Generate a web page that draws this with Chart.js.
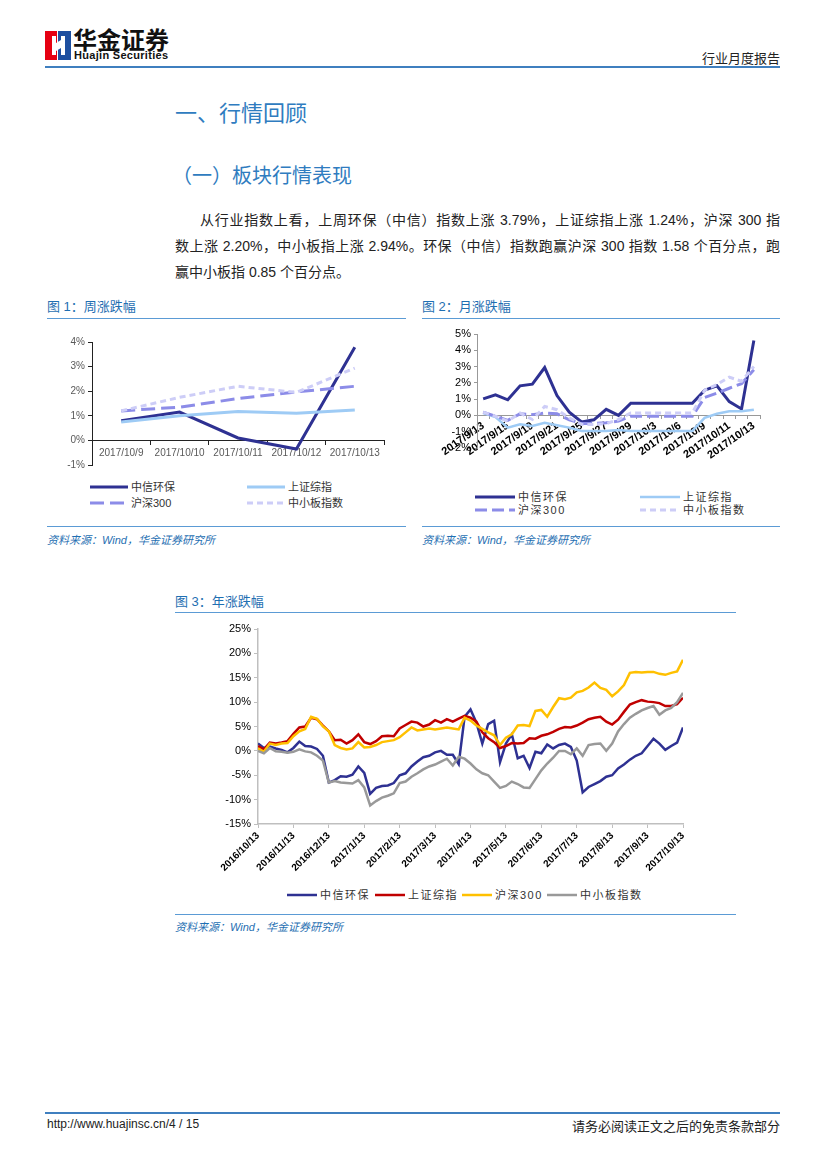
<!DOCTYPE html>
<html lang="zh-CN">
<head>
<meta charset="utf-8">
<title>行业月度报告</title>
<script src="https://cdn.jsdelivr.net/npm/chart.js@4.4.1/dist/chart.umd.min.js"></script>
<style>
  body { margin: 0; width: 827px; height: 1169px; position: relative; background: #fff; overflow: hidden;
         font-family: "Liberation Sans", "Noto Sans CJK SC", sans-serif; color: #222; }
  .abs { position: absolute; white-space: nowrap; }
  .rule { position: absolute; height: 0; border-top: 1px solid #5b9bd5; }
  .figtitle { position: absolute; font-size: 13px; color: #1f6fb2; line-height: 16px; }
  .source { position: absolute; font-size: 11px; color: #1f6fb2; font-style: italic; line-height: 14px; }
  .para { position: absolute; font-size: 14px; line-height: 20px; color: #222; text-align: justify; text-align-last: justify; }
  .leg { position: absolute; font-size: 11px; line-height: 14px; color: #333; display: flex; align-items: center; white-space: nowrap; }
  .leg svg { margin-right: 3px; }
  .wide { letter-spacing: 1.5px; }
  canvas { position: absolute; }
</style>
</head>
<body>

<!-- header -->
<svg class="abs" style="left:45px;top:31px" width="26" height="29">
  <rect x="0" y="0" width="12" height="29" fill="#e60012"/>
  <rect x="13" y="0" width="13" height="29" fill="#1d4fa0"/>
  <polygon points="7,5 11,5 11,12 16,9 16,5 20,5 20,24 16,24 16,17 11,20 11,24 7,24" fill="#fff"/>
</svg>
<div class="abs" style="left:73px;top:27px;font-size:24px;line-height:24px;font-weight:bold;color:#111;font-family:'Noto Sans CJK SC'">华金证券</div>
<div class="abs" style="left:74px;top:50px;font-size:11px;line-height:10px;font-weight:bold;color:#111;letter-spacing:0.3px">Huajin Securities</div>
<div class="abs" style="right:47px;top:48px;font-size:13px;color:#222;font-family:'Noto Sans CJK SC'">行业月度报告</div>
<div class="abs" style="left:45px;top:66px;width:735px;height:2px;background:#3f7fbf"></div>

<!-- headings -->
<div class="abs" style="left:175px;top:95px;font-size:22px;color:#2f7cc0;font-family:'Noto Sans CJK SC'">一、行情回顾</div>
<div class="abs" style="left:172px;top:160px;font-size:20px;color:#2f7cc0;font-family:'Noto Sans CJK SC'">（一）板块行情表现</div>

<div class="para" style="left:200px;top:210px;width:580px">从行业指数上看，上周环保（中信）指数上涨 3.79%，上证综指上涨 1.24%，沪深 300 指</div>
<div class="para" style="left:175px;top:236px;width:605px">数上涨 2.20%，中小板指上涨 2.94%。环保（中信）指数跑赢沪深 300 指数 1.58 个百分点，跑</div>
<div class="para" style="left:175px;top:262px;text-align-last:left">赢中小板指 0.85 个百分点。</div>

<!-- figure 1 -->
<div class="figtitle" style="left:47px;top:299px">图 1：周涨跌幅</div>
<div class="rule" style="left:47px;top:318px;width:359px"></div>
<canvas id="weekChart" width="360" height="145" style="left:47px;top:330px"></canvas>
<div id="weekLegend"></div>
<div class="rule" style="left:47px;top:526px;width:359px"></div>
<div class="source" style="left:47px;top:533px">资料来源：Wind，华金证券研究所</div>

<!-- figure 2 -->
<div class="figtitle" style="left:422px;top:299px">图 2：月涨跌幅</div>
<div class="rule" style="left:422px;top:318px;width:358px"></div>
<canvas id="monthChart" width="360" height="160" style="left:422px;top:320px"></canvas>
<div id="monthLegend"></div>
<div class="rule" style="left:422px;top:526px;width:358px"></div>
<div class="source" style="left:422px;top:533px">资料来源：Wind，华金证券研究所</div>

<!-- figure 3 -->
<div class="figtitle" style="left:175px;top:594px">图 3：年涨跌幅</div>
<div class="rule" style="left:175px;top:612px;width:561px"></div>
<canvas id="yearChart" width="560" height="262" style="left:175px;top:615px"></canvas>
<div id="yearLegend"></div>
<div class="rule" style="left:175px;top:914px;width:561px"></div>
<div class="source" style="left:175px;top:920px">资料来源：Wind，华金证券研究所</div>

<!-- footer -->
<div class="abs" style="left:45px;top:1112px;width:735px;height:2px;background:#3f7fbf"></div>
<div class="abs" style="left:47px;top:1117px;font-size:12px;color:#222">http://www.huajinsc.cn/4 / 15</div>
<div class="abs" style="right:47px;top:1116px;font-size:13px;color:#222;font-family:'Noto Sans CJK SC'">请务必阅读正文之后的免责条款部分</div>

<script>
// ---- data: 周涨跌幅 (%) ----
const weekDays = ["2017/10/9", "2017/10/10", "2017/10/11", "2017/10/12", "2017/10/13"];
const weekZxhb = [0.8, 1.15, 0.1, -0.35, 3.79];
const weekSzzz = [0.75, 1.0, 1.17, 1.1, 1.24];
const weekHs300 = [1.2, 1.35, 1.7, 1.97, 2.2];
const weekZxb = [1.2, 1.75, 2.2, 1.95, 2.94];

// ---- data: 月涨跌幅 (%) ----
const monthDays = ["2017/9/13", "2017/9/14", "2017/9/15", "2017/9/18", "2017/9/19", "2017/9/20",
  "2017/9/21", "2017/9/22", "2017/9/25", "2017/9/26", "2017/9/27", "2017/9/28", "2017/9/29",
  "2017/9/30", "2017/10/3", "2017/10/4", "2017/10/6", "2017/10/8", "2017/10/9", "2017/10/10",
  "2017/10/11", "2017/10/12", "2017/10/13"];
const monthZxhb = [1.02, 1.27, 0.96, 1.82, 1.92, 2.94, 1.22, 0.2, -0.4, -0.27, 0.37, 0.0, 0.75,
  0.75, 0.75, 0.75, 0.75, 0.75, 1.55, 1.82, 0.85, 0.4, 4.6];
const monthSzzz = [0.15, -0.1, -0.75, -0.55, -0.65, -0.45, -0.6, -0.75, -0.95, -0.95, -0.95, -0.9,
  -0.95, -0.95, -0.95, -0.95, -0.95, -0.95, -0.15, 0.1, 0.25, 0.25, 0.35];
const monthHs300 = [0.2, -0.05, -0.3, 0.1, 0.05, 0.15, 0.1, -0.27, -0.5, -0.5, -0.45, -0.35, -0.05,
  -0.05, -0.05, -0.05, -0.05, -0.05, 1.1, 1.37, 1.67, 1.95, 2.8];
const monthZxb = [0.2, -0.05, -0.35, 0.15, -0.25, 0.55, 0.35, -0.15, -0.55, -0.55, -0.5, -0.25, 0.15,
  0.15, 0.15, 0.15, 0.15, 0.15, 1.55, 1.9, 2.35, 2.1, 3.0];

// ---- data: 年涨跌幅 (%), 6 readings per month ----
const yearMonths = ["2016/10/13", "2016/11/13", "2016/12/13", "2017/1/13", "2017/2/13", "2017/3/13",
  "2017/4/13", "2017/5/13", "2017/6/13", "2017/7/13", "2017/8/13", "2017/9/13", "2017/10/13"];
const READS_PER_MONTH = 6;
const yearZxhb = [1.5, 0.6, 0.9, 0.5, 0.2, -0.3, 0.6, 1.9, 1.0, 0.9, 0.4, -1.0,
  -6.5, -6.0, -5.2, -5.3, -4.9, -3.2, -4.5, -8.8, -7.6, -7.2, -7.1, -6.6,
  -5.0, -4.6, -3.2, -2.2, -1.3, -1.0, -0.3, 0.0, -0.8, -0.8, -2.7, 7.0,
  8.5, 5.8, 1.5, 5.5, 6.2, -2.3, 1.5, 3.4, -1.5, -1.0, -3.5, -0.2,
  -0.5, 1.3, 0.5, 1.2, 1.5, 0.8, -2.0, -8.5, -7.4, -6.8, -6.2, -5.3,
  -5.0, -3.6, -2.8, -1.8, -1.0, -0.5, 1.0, 2.5, 1.5, 0.2, 1.0, 1.7, 4.8];
const yearSzzz = [1.0, 0.3, 1.7, 1.5, 1.7, 2.0, 3.5, 4.8, 5.0, 6.8, 6.5, 5.2,
  4.0, 2.2, 2.3, 1.5, 2.2, 3.4, 1.8, 1.4, 2.0, 3.0, 3.1, 3.0,
  4.6, 5.3, 6.0, 5.8, 5.0, 5.4, 6.3, 5.8, 6.5, 6.0, 6.6, 7.2,
  6.8, 6.0, 3.8, 2.6, 1.8, 0.6, 1.0, 1.6, 1.5, 1.6, 2.6, 2.5,
  3.1, 3.4, 3.9, 4.5, 4.9, 4.8, 5.2, 5.8, 6.5, 6.8, 7.0, 6.0,
  5.4, 6.4, 8.0, 9.5, 10.0, 10.4, 10.1, 10.0, 9.8, 9.2, 9.2, 9.6, 10.9];
const yearHs300 = [0.5, -0.2, 1.5, 1.2, 1.5, 1.6, 3.0, 4.0, 4.5, 7.0, 6.6, 5.0,
  4.0, 1.2, 0.6, 0.3, 0.5, 1.8, 0.7, 0.8, 1.2, 1.8, 2.0, 2.2,
  2.8, 3.8, 4.8, 4.2, 4.4, 4.6, 4.4, 4.6, 4.8, 4.6, 4.4, 6.8,
  6.2, 5.2, 4.5, 3.8, 3.2, 1.2, 2.7, 3.4, 5.2, 5.3, 5.1, 8.2,
  8.4, 7.0, 9.0, 10.8, 10.6, 10.9, 12.0, 12.3, 13.0, 14.0, 12.9, 12.5,
  11.2, 12.2, 13.5, 16.0, 16.2, 16.1, 16.2, 16.2, 15.8, 15.6, 16.0, 16.3, 18.7];
const yearZxb = [0.0, -0.5, 0.6, -0.1, -0.2, -0.4, -0.2, 0.3, -0.1, -0.3, -1.0, -2.0,
  -6.5, -6.2, -6.5, -6.6, -6.7, -6.0, -7.5, -11.2, -10.3, -9.6, -9.2, -8.7,
  -6.6, -6.3, -5.3, -4.6, -3.8, -3.2, -2.8, -2.2, -1.6, -3.0, -1.2, -1.6,
  -2.6, -3.8, -4.6, -5.0, -6.3, -7.6, -7.2, -6.3, -6.8, -7.5, -7.6, -5.8,
  -4.0, -2.6, -1.4, 0.0, 0.0, -0.7, 0.5, -1.0, 1.2, 1.4, 1.5, 0.0,
  1.5, 4.0, 5.5, 6.8, 7.6, 8.3, 8.8, 9.2, 7.4, 8.3, 8.8, 10.0, 11.9];

const NAMES = ["中信环保", "上证综指", "沪深300", "中小板指数"];

function lineSet(label, data, color, width, dash, order) {
      return {
            label: label,
            data: data,
            borderColor: color,
            backgroundColor: color,
            borderWidth: width,
            borderDash: dash,
            pointRadius: 0,
            tension: 0,
            fill: false,
            order: order,
      };
}

function makeLegend(id, items, cls) {
      const box = document.getElementById(id);
      items.forEach((it) => {
            const div = document.createElement("div");
            div.className = "leg";
            div.style.left = it.left + "px";
            div.style.top = it.top + "px";
            const w = it.len;
            div.innerHTML =
                  `<svg width="${w}" height="6"><line x1="0" y1="3" x2="${w}" y2="3" stroke="${it.color}" stroke-width="${it.width}" stroke-dasharray="${it.dash.join(",") || "none"}"/></svg><span class="${cls || ""}">${it.label}</span>`;
            box.appendChild(div);
      });
}

const pct = (v) => v + "%";

// ---- 图1 周涨跌幅 ----
const weekStyles = [
      { color: "#2e3192", width: 3, dash: [] },
      { color: "#9ecbf5", width: 3, dash: [] },
      { color: "#8c8ce8", width: 3, dash: [14, 6] },
      { color: "#cdcdf7", width: 3, dash: [6, 4] },
];
const weekSeries = [weekZxhb, weekSzzz, weekHs300, weekZxb];

new Chart(document.getElementById("weekChart"), {
      type: "line",
      data: {
            labels: weekDays,
            datasets: weekSeries.map((d, i) =>
                  lineSet(NAMES[i], d, weekStyles[i].color, weekStyles[i].width, weekStyles[i].dash, 3 - i)),
      },
      options: {
            responsive: false,
            animation: false,
            layout: { padding: { top: 12, right: 23, bottom: 10, left: 0 } },
            plugins: { legend: { display: false }, tooltip: { enabled: false } },
            scales: {
                  x: {
                        position: { y: 0 },
                        offset: true,
                        grid: { drawOnChartArea: false, offset: true, tickLength: 4, color: "#222" },
                        border: { color: "#222", width: 1 },
                        ticks: { color: "#595959", font: { size: 10 }, maxRotation: 0, padding: 3 },
                  },
                  y: {
                        min: -1,
                        max: 4,
                        grid: { drawOnChartArea: false, tickLength: 4, color: "#222" },
                        border: { color: "#222", width: 1 },
                        ticks: { stepSize: 1, callback: pct, color: "#595959", font: { size: 10 } },
                        afterFit: (s) => { s.width = 45; },
                  },
            },
      },
});

makeLegend("weekLegend", [
      { label: NAMES[0], left: 90, top: 480, len: 38, ...weekStyles[0] },
      { label: NAMES[1], left: 247, top: 480, len: 38, ...weekStyles[1] },
      { label: NAMES[2], left: 90, top: 496, len: 38, ...weekStyles[2] },
      { label: NAMES[3], left: 247, top: 496, len: 38, ...weekStyles[3] },
]);

// ---- 图2 月涨跌幅 ----
const monthStyles = [
      { color: "#2e3192", width: 3, dash: [] },
      { color: "#9ecbf5", width: 2.5, dash: [] },
      { color: "#8c8ce8", width: 3, dash: [12, 5] },
      { color: "#cdcdf7", width: 3, dash: [6, 4] },
];
const monthSeries = [monthZxhb, monthSzzz, monthHs300, monthZxb];

new Chart(document.getElementById("monthChart"), {
      type: "line",
      data: {
            labels: monthDays,
            datasets: monthSeries.map((d, i) =>
                  lineSet(NAMES[i], d, monthStyles[i].color, monthStyles[i].width, monthStyles[i].dash, 3 - i)),
      },
      options: {
            responsive: false,
            animation: false,
            layout: { padding: { top: 14, right: 22, bottom: 32, left: 0 } },
            plugins: { legend: { display: false }, tooltip: { enabled: false } },
            scales: {
                  x: {
                        position: { y: 0 },
                        offset: true,
                        grid: { drawOnChartArea: false, offset: true, tickLength: 3, color: "#999" },
                        border: { color: "#999", width: 1 },
                        ticks: {
                              autoSkip: false,
                              maxRotation: 35,
                              minRotation: 35,
                              color: "#000",
                              font: { size: 11, weight: "bold" },
                              padding: 1,
                              callback: function (v, i) { return i % 2 === 0 ? this.getLabelForValue(v) : ""; },
                        },
                  },
                  y: {
                        min: -2,
                        max: 5,
                        grid: { drawOnChartArea: false, tickLength: 3, color: "#999" },
                        border: { color: "#999", width: 1 },
                        ticks: { stepSize: 1, callback: pct, color: "#000", font: { size: 11 } },
                        afterFit: (s) => { s.width = 55; },
                  },
            },
      },
});

makeLegend("monthLegend", [
      { label: NAMES[0], left: 475, top: 490, len: 40, ...monthStyles[0] },
      { label: NAMES[1], left: 640, top: 490, len: 40, ...monthStyles[1] },
      { label: NAMES[2], left: 475, top: 503, len: 40, ...monthStyles[2] },
      { label: NAMES[3], left: 640, top: 503, len: 40, ...monthStyles[3] },
], "wide");

// ---- 图3 年涨跌幅 ----
const yearColors = ["#2e3192", "#c00000", "#ffc000", "#999999"];
const yearSeries = [yearZxhb, yearSzzz, yearHs300, yearZxb];

new Chart(document.getElementById("yearChart"), {
      type: "line",
      data: {
            datasets: yearSeries.map((d, i) =>
                  lineSet(NAMES[i], d.map((v, k) => ({ x: k / READS_PER_MONTH, y: v })), yearColors[i], 2.5, [], 3 - i)),
      },
      options: {
            responsive: false,
            animation: false,
            layout: { padding: { top: 14, right: 52, bottom: 2, left: 0 } },
            plugins: { legend: { display: false }, tooltip: { enabled: false } },
            scales: {
                  x: {
                        type: "linear",
                        min: 0,
                        max: yearMonths.length - 1,
                        grid: { drawOnChartArea: false, tickLength: 4, color: "#bfbfbf" },
                        border: { color: "#bfbfbf", width: 1.5 },
                        ticks: {
                              stepSize: 1,
                              autoSkip: false,
                              maxRotation: 45,
                              minRotation: 45,
                              color: "#000",
                              font: { size: 10, weight: "bold" },
                              padding: 2,
                              callback: (v) => yearMonths[v],
                        },
                        afterFit: (s) => { s.height = 51; },
                  },
                  y: {
                        min: -15,
                        max: 25,
                        grid: { drawOnChartArea: false, tickLength: 4, color: "#bfbfbf" },
                        border: { color: "#bfbfbf", width: 1.5 },
                        ticks: { stepSize: 5, callback: pct, color: "#000", font: { size: 11 } },
                        afterFit: (s) => { s.width = 83; },
                  },
            },
      },
});

makeLegend("yearLegend", [
      { label: NAMES[0], left: 287, top: 888, len: 30, color: yearColors[0], width: 2.5, dash: [] },
      { label: NAMES[1], left: 375, top: 888, len: 30, color: yearColors[1], width: 2.5, dash: [] },
      { label: NAMES[2], left: 462, top: 888, len: 30, color: yearColors[2], width: 2.5, dash: [] },
      { label: NAMES[3], left: 547, top: 888, len: 30, color: yearColors[3], width: 2.5, dash: [] },
], "wide");
</script>
</body>
</html>
